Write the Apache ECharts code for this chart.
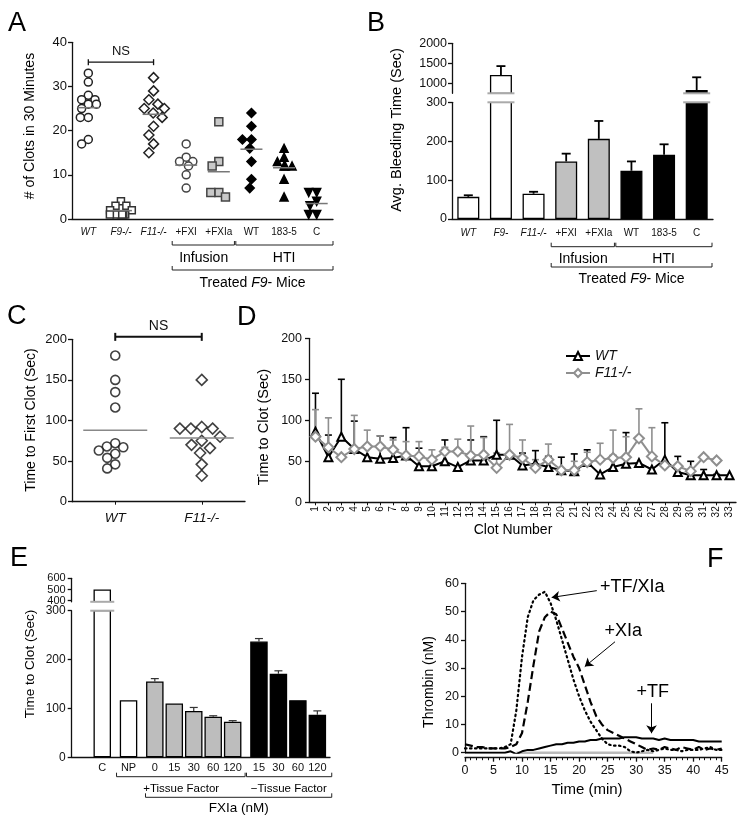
<!DOCTYPE html>
<html><head><meta charset="utf-8">
<script src="https://cdn.jsdelivr.net/npm/echarts@6/dist/echarts.min.js"></script>
<style>html,body{margin:0;padding:0;background:#fff}#c{width:744px;height:818px}</style>
</head><body><div id="c"></div>
<script>
// ---------------- DATA ----------------
// Panel A
const catsA = ['WT','F9-/-','F11-/-','+FXI','+FXIa','WT','183-5','C'];
const aWT = [33,31,28,27,27,26,26,25,23,23,18,17];
const aF9 = [4,3,3,2,2,1,1,1,1,1,1];
const aF11 = [32,29,27,26,25,25,24,23,21,19,17,15];
const aFXI = [17,14,13,13,12,10,7];
const aFXIa = [22,13,12,6,6,5];
const aHtiWT = [24,21,18,18,16,13,9,7];
const aHti1835 = [16,14,13,12,12,12,9,5];
const aHtiC = [6,6,4,3,1,1];
const meansA = [25.2,1.9,23.7,12.2,10.7,15.8,11.6,3.5];
// Panel B
const catsB = ['WT','F9-','F11-/-','+FXI','+FXIa','WT','183-5','C'];
const groupB = ['open','open','open','inf','inf','hti','hti','hti'];
const meanB = [57,1210,65,148,206,124,165,830];
const errTopB = [61,1430,70,168,252,148,192,1150];
const ticksBUpper = [1000,1500,2000];
// Panel C
const catsC = ['WT','F11-/-'];
const cWT = [180,150,135,116,72,68,67,63,59,54,46,41];
const cF11 = [150,92,90,90,90,80,75,70,66,60,46,32];
const meansC = [88,78.5];
// Panel D
const clotNums = ['1','2','3','4','5','6','7','8','9','10','11','12','13','14','15','16','17','18','19','20','21','22','23','24','25','26','27','28','29','30','31','32','33'];
const dWT    = [86,55,80,65,55,53,54,57,44,44,50,43,51,51,58,58,45,47,43,39,38,49,34,43,47,48,40,52,37,33,33,33,33];
const dWTtop = [133,82,150,99,55,81,79,91,66,44,76,43,76,80,100,60,60,63,56,55,59,64,34,57,85,48,40,97,56,50,40,34,33];
const dF11    = [80,67,55,65,68,68,64,57,56,52,62,62,57,58,42,58,54,42,52,39,39,49,52,54,55,78,56,45,44,38,55,51];
const dF11top = [113,103,55,106,88,81,76,74,74,64,67,77,93,79,60,95,76,52,71,39,50,61,72,88,80,114,91,45,44,38,55,51];
// Panel E
const catsE = ['C','NP','0','15','30','60','120','15','30','60','120'];
const groupE = [0,1,2,2,2,2,2,3,3,3,3];
const meanE = [500,117,155,110,95,83,73,237,171,117,87];
const errTopE = [500,117,161,110,102,85,75,243,177,117,95];
const ticksEUpper = [400,500,600];
// Panel F
const timeF = [0,1,2,3,4,5,6,7,8,9,10,11,12,13,14,15,16,17,18,19,20,21,22,23,24,25,26,27,28,29,30,31,32,33,34,35,36,37,38,39,40,41,42,43,44,45];
const fTFXIa = [1.5,1.5,1.5,1.5,1.5,1.5,1.5,2,3,15,34,48,54,56,57,53,47,40,33,26,20,15,11,8,5,3,2.5,2.5,2,0.5,0,0.5,1,0.5,1,1.5,1,1,0.5,1,1,1,1.5,2,1,1];
const fXIa = [3,2.5,2,2,1.5,1.5,1.5,1.5,2,3,7,18,31,43,48,50,49,44,39,34,30,24,18,13,10,8,7,6,5,4,3,2,1,1.5,1,2,1.5,1,2,1.5,1,2,1,1.5,1,1.5];
const fTF = [0,0,0,0,0,0,0,0,0.5,-0.5,0.5,1,1,1.5,2,2.5,3,3,3.5,3.5,4,4,4.5,4.5,5,5,5,5,5.5,5.5,5.5,5,5,5,4.5,5,4.5,4.5,4.5,4.5,4.5,4,4,4,4,4];
const fBaseT = [9,33];
const fBaseV = [0,0];

// ---------------- STYLE / LAYOUT ----------------
const FONT = '"Liberation Sans", Arial, Helvetica, sans-serif';
const INK = '#111';
const G = {
  A:  {left:72,   top:42.3,  width:261,   height:176.7},
  Bu: {left:452,  top:43.3,  width:261,   height:50},
  Bl: {left:452,  top:102.3, width:261,   height:116.7},
  C:  {left:72,   top:339.3, width:173,   height:162.4},
  D:  {left:309,  top:338.3, width:427,   height:164},
  Eu: {left:71.7, top:578.3, width:258.3, height:23.5},
  El: {left:71.7, top:610.7, width:258.3, height:146.6},
  F:  {left:465,  top:583.3, width:256.7, height:169.4}
};
const gridOrder = ['A','Bu','Bl','C','D','Eu','El','F'];
const GI = {}; gridOrder.forEach((k,i)=>GI[k]=i);
const xminE = -1.57, xmaxE = 11.7;
const posE = catsE.map((_, i) => i + 0.35 * groupE[i]);
const plain = (v) => String(v);

function merge(a, b) {
  const o = Object.assign({}, a);
  for (const k in b) {
    if (b[k] && typeof b[k] === 'object' && !Array.isArray(b[k]) && a[k] && typeof a[k] === 'object' && !Array.isArray(a[k])) o[k] = merge(a[k], b[k]);
    else o[k] = b[k];
  }
  return o;
}
const axLine = {show:true, onZero:false, lineStyle:{color:INK, width:1.3}};
const axTick = {show:true, length:4, lineStyle:{color:INK, width:1.3}};
function yAx(key, extra) {
  return merge({type:'value', gridIndex:GI[key], splitLine:{show:false}, axisLine:axLine, axisTick:axTick,
    axisLabel:{color:INK, fontFamily:FONT, fontSize:13, margin:5, formatter:plain, hideOverlap:false}}, extra || {});
}
function xCat(key, data, extra) {
  return merge({type:'category', gridIndex:GI[key], data:data, splitLine:{show:false}, axisLine:axLine,
    axisTick:{show:false}, axisLabel:{color:INK, fontFamily:FONT, fontSize:10, interval:0, margin:8}}, extra || {});
}
function italicFirst(n) {
  return (v, i) => i < n ? '{it|' + v + '}' : v;
}

// helpers for custom series
function errRender(color, lw, capW) {
  return function (p, api) {
    const a = api.coord([api.value(0), api.value(1)]);
    const b = api.coord([api.value(0), api.value(2)]);
    return {type:'group', children:[
      {type:'line', shape:{x1:a[0], y1:a[1], x2:b[0], y2:b[1]}, style:{stroke:color, lineWidth:lw}},
      {type:'line', shape:{x1:b[0]-capW/2, y1:b[1], x2:b[0]+capW/2, y2:b[1]}, style:{stroke:color, lineWidth:lw}}
    ]};
  };
}
function meanRender(w, color) {
  return function (p, api) {
    const c = api.coord([api.value(0), api.value(1)]);
    return {type:'line', shape:{x1:c[0]-w/2, y1:c[1], x2:c[0]+w/2, y2:c[1]}, style:{stroke:color, lineWidth:1.5}};
  };
}
function nsRender(tick, lw, fs) {
  return function (p, api) {
    const a = api.coord([api.value(0), api.value(2)]);
    const b = api.coord([api.value(1), api.value(2)]);
    return {type:'group', children:[
      {type:'line', shape:{x1:a[0], y1:a[1], x2:b[0], y2:b[1]}, style:{stroke:INK, lineWidth:lw}},
      {type:'line', shape:{x1:a[0], y1:a[1]-tick, x2:a[0], y2:a[1]+tick}, style:{stroke:INK, lineWidth:lw}},
      {type:'line', shape:{x1:b[0], y1:b[1]-tick, x2:b[0], y2:b[1]+tick}, style:{stroke:INK, lineWidth:lw}},
      {type:'text', x:(a[0]+b[0])/2, y:a[1]-4, style:{text:'NS', fill:INK, fontFamily:FONT, fontSize:fs, align:'center', verticalAlign:'bottom', textAlign:'center', textVerticalAlign:'bottom'}}
    ]};
  };
}
function breakRender(halfW, gap) {
  return function (p, api) {
    const c = api.coord([api.value(0), api.value(1)]);
    return {type:'group', children:[
      {type:'rect', shape:{x:c[0]-halfW, y:c[1]-gap, width:2*halfW, height:gap}, style:{fill:'#fff'}},
      {type:'line', shape:{x1:c[0]-halfW, y1:c[1], x2:c[0]+halfW, y2:c[1]}, style:{stroke:'#aaa', lineWidth:2}},
      {type:'line', shape:{x1:c[0]-halfW, y1:c[1]-gap, x2:c[0]+halfW, y2:c[1]-gap}, style:{stroke:'#aaa', lineWidth:2}}
    ]};
  };
}

// ---------------- AXES ----------------
const xAxes = [
  xCat('A', catsA, {jitter:24, jitterOverlap:false, jitterMargin:0,
    axisLabel:{formatter:italicFirst(3), margin:8, rich:{it:{fontStyle:'italic', fontSize:10, fontFamily:FONT, color:INK}}}}),
  xCat('Bu', catsB, {show:false}),
  xCat('Bl', catsB, {axisLabel:{formatter:italicFirst(3), margin:9, rich:{it:{fontStyle:'italic', fontSize:10, fontFamily:FONT, color:INK}}}}),
  xCat('C', catsC, {jitter:46, jitterOverlap:false, jitterMargin:0,
    axisTick:{show:true, length:3, alignWithLabel:true, lineStyle:{color:INK}},
    axisLabel:{fontSize:13.5, fontStyle:'italic', margin:10}}),
  xCat('D', clotNums, {axisTick:{show:true, length:3, alignWithLabel:true, interval:0, lineStyle:{color:INK}},
    axisLabel:{rotate:90, fontSize:10, margin:4}}),
  {type:'value', gridIndex:GI.Eu, min:xminE, max:xmaxE, show:false},
  {type:'value', gridIndex:GI.El, min:xminE, max:xmaxE, splitLine:{show:false}, axisLine:axLine, axisTick:{show:false},
    axisLabel:{customValues:posE, formatter:(v)=>{const k = posE.findIndex(p=>Math.abs(p-v)<1e-6); return k>=0?catsE[k]:'';},
      color:INK, fontFamily:FONT, fontSize:11, margin:5}},
  {type:'value', gridIndex:GI.F, min:0, max:45, interval:5, offset:5, splitLine:{show:false}, axisLine:axLine, axisTick:axTick,
    minorTick:{show:true, splitNumber:5, length:2.5, lineStyle:{color:INK}},
    axisLabel:{color:INK, fontFamily:FONT, fontSize:12.5, margin:6}}
];
const yAxes = [
  yAx('A', {min:0, max:40, interval:10}),
  yAx('Bu', {min:750, max:2000, axisLabel:{customValues:ticksBUpper, fontSize:12.5, showMinLabel:true, showMaxLabel:true}, axisTick:{customValues:ticksBUpper}}),
  yAx('Bl', {min:0, max:300, interval:100, axisLabel:{fontSize:12.5}}),
  yAx('C', {min:0, max:200, interval:50}),
  yAx('D', {min:0, max:200, interval:50, axisLabel:{fontSize:12.5, margin:7}}),
  yAx('Eu', {min:390, max:600, axisLabel:{customValues:ticksEUpper, fontSize:11, lineHeight:9, margin:6, showMinLabel:true, showMaxLabel:true}, axisTick:{customValues:ticksEUpper}}),
  yAx('El', {min:0, max:300, interval:100, axisLabel:{fontSize:12, margin:6}}),
  yAx('F', {min:0, max:60, interval:10, axisLabel:{fontSize:12.5, margin:6}})
];

// ---------------- SERIES ----------------
const series = [];
// Panel A scatter
const groupsA = [aWT, aF9, aF11, aFXI, aFXIa, aHtiWT, aHti1835, aHtiC];
const styleA = [
  {symbol:'circle',  size:8,  fill:'#fff',   stroke:'#222'},
  {symbol:'rect',    size:7,  fill:'#fff',   stroke:'#333'},
  {symbol:'diamond', size:10, fill:'#fff',   stroke:'#222'},
  {symbol:'circle',  size:8,  fill:'#fff',   stroke:'#444'},
  {symbol:'rect',    size:8,  fill:'#c8c8c8',stroke:'#444'},
  {symbol:'diamond', size:9,  fill:'#000',   stroke:'#000'},
  {symbol:'triangle',size:8,  fill:'#000',   stroke:'#000'},
  {symbol:'triangle',size:8,  fill:'#000',   stroke:'#000', rotate:180}
];
groupsA.forEach((vals, i) => {
  const s = styleA[i];
  series.push({type:'scatter', xAxisIndex:0, yAxisIndex:0, data: vals.map(v => [i, v]),
    symbol:s.symbol, symbolSize:s.size, symbolRotate:s.rotate || 0,
    itemStyle:{color:s.fill, borderColor:s.stroke, borderWidth:1.5, opacity:1}, z:3});
});
series.push({type:'custom', xAxisIndex:0, yAxisIndex:0, data: meansA.map((m,i)=>[i,m]), encode:{x:0,y:1},
  renderItem: meanRender(22, '#777'), z:4});
series.push({type:'custom', xAxisIndex:0, yAxisIndex:0, data:[[0,2,35.5]], encode:{x:[0,1], y:2},
  renderItem: nsRender(3, 1.3, 13), clip:false, z:4});

// Panel B
const fillB = {open:'#fff', inf:'#c0c0c0', hti:'#000'};
const barItemB = (v, i) => ({value:v, itemStyle:{color:fillB[groupB[i]], borderColor:'#000', borderWidth:1.3}});
series.push({type:'bar', xAxisIndex:2, yAxisIndex:2, barWidth:22, data: meanB.map(barItemB), z:2});
series.push({type:'bar', xAxisIndex:1, yAxisIndex:1, barWidth:22, data: meanB.map((v,i)=> v > 750 ? barItemB(v,i) : '-'), z:2});
series.push({type:'custom', xAxisIndex:2, yAxisIndex:2, encode:{x:0, y:[1,2]},
  data: meanB.map((v,i)=>[i, v, errTopB[i]]).filter(d => d[2] <= 300),
  renderItem: errRender('#000', 1.8, 9), z:3});
series.push({type:'custom', xAxisIndex:1, yAxisIndex:1, encode:{x:0, y:[1,2]},
  data: meanB.map((v,i)=>[i, v, errTopB[i]]).filter(d => d[1] > 750),
  renderItem: errRender('#000', 1.8, 9), z:3});
series.push({type:'custom', xAxisIndex:2, yAxisIndex:2, encode:{x:0, y:1}, clip:false,
  data: meanB.map((v,i)=>[i, 300, v]).filter(d => d[2] > 300).map(d => [d[0], d[1]]),
  renderItem: breakRender(13.5, G.Bl.top - (G.Bu.top + G.Bu.height)), z:5});

// Panel C
series.push({type:'scatter', xAxisIndex:3, yAxisIndex:3, data: cWT.map(v=>[0,v]), symbol:'circle', symbolSize:9,
  itemStyle:{color:'#fff', borderColor:'#111', borderWidth:1.6}, z:3});
series.push({type:'scatter', xAxisIndex:3, yAxisIndex:3, data: cF11.map(v=>[1,v]), symbol:'diamond', symbolSize:11,
  itemStyle:{color:'#fff', borderColor:'#111', borderWidth:1.6}, z:3});
series.push({type:'custom', xAxisIndex:3, yAxisIndex:3, data: meansC.map((m,i)=>[i,m]), encode:{x:0,y:1},
  renderItem: meanRender(64, '#888'), z:4});
series.push({type:'custom', xAxisIndex:3, yAxisIndex:3, data:[[0,1,203]], encode:{x:[0,1], y:2},
  renderItem: nsRender(4, 2, 14), clip:false, z:4});

// Panel D
series.push({type:'custom', xAxisIndex:4, yAxisIndex:4, encode:{x:0, y:[1,2]},
  data: dWT.map((v,i)=>[i, v, dWTtop[i]]).filter(d=>d[2]>d[1]), renderItem: errRender('#000', 1.6, 7), z:1});
series.push({type:'custom', xAxisIndex:4, yAxisIndex:4, encode:{x:0, y:[1,2]},
  data: dF11.map((v,i)=>[i, v, dF11top[i]]).filter(d=>d[2]>d[1]), renderItem: errRender('#8f8f8f', 1.6, 7), z:1});
series.push({type:'line', name:'WT', xAxisIndex:4, yAxisIndex:4, data:dWT, symbol:'triangle', symbolSize:8,
  itemStyle:{color:'#fff', borderColor:'#000', borderWidth:2}, lineStyle:{color:'#000', width:2}, z:3});
series.push({type:'line', name:'F11-/-', xAxisIndex:4, yAxisIndex:4, data:dF11, symbol:'diamond', symbolSize:10,
  itemStyle:{color:'#fff', borderColor:'#8f8f8f', borderWidth:2}, lineStyle:{color:'#8f8f8f', width:2}, z:4});

// Panel E
const fillE = ['#fff','#fff','#bdbdbd','#000'];
const barItemE = (v, i) => ({value:[posE[i], v], itemStyle:{color:fillE[groupE[i]], borderColor:'#000', borderWidth:1.3}});
series.push({type:'bar', xAxisIndex:6, yAxisIndex:6, barWidth:17.5, data: meanE.map(barItemE), z:2});
series.push({type:'bar', xAxisIndex:5, yAxisIndex:5, barWidth:17.5, data: meanE.map(barItemE).filter(d=>d.value[1] > 390), z:2});
series.push({type:'custom', xAxisIndex:6, yAxisIndex:6, encode:{x:0, y:[1,2]},
  data: meanE.map((v,i)=>[posE[i], v, errTopE[i]]).filter(d=>d[2]>d[1] && d[2]<=300),
  renderItem: errRender('#333', 1.2, 8), z:3});
series.push({type:'custom', xAxisIndex:6, yAxisIndex:6, encode:{x:0, y:1}, clip:false,
  data: meanE.map((v,i)=>[posE[i], 300, v]).filter(d=>d[2]>300).map(d=>[d[0], d[1]]),
  renderItem: breakRender(12, G.El.top - (G.Eu.top + G.Eu.height)), z:5});

// Panel F
const zip = (t, v) => t.map((x,i)=>[x, v[i]]);
series.push({type:'line', xAxisIndex:7, yAxisIndex:7, data: zip(fBaseT, fBaseV), showSymbol:false,
  lineStyle:{color:'#bbb', width:2.5}, z:1});
series.push({type:'line', xAxisIndex:7, yAxisIndex:7, data: zip(timeF, fTFXIa), showSymbol:false,
  lineStyle:{color:'#000', width:2.2, type:[1.5,3.5], cap:'round'}, z:2});
series.push({type:'line', xAxisIndex:7, yAxisIndex:7, data: zip(timeF, fXIa), showSymbol:false,
  lineStyle:{color:'#000', width:2.2, type:[8,4]}, z:2});
const annLabel = (txt) => ({show:true, position:'inside', formatter:txt, color:'#000', fontFamily:FONT, fontSize:18});
series.push({type:'line', xAxisIndex:7, yAxisIndex:7, data: zip(timeF, fTF), showSymbol:false,
  lineStyle:{color:'#000', width:2}, z:3,
  markLine:{silent:true, symbol:['none','arrow'], symbolSize:8, label:{show:false},
    lineStyle:{color:'#000', width:1, type:'solid'},
    data:[
      [{coord:[23.1,57.4]},{coord:[15.2,55.0]}],
      [{coord:[26.3,39.3]},{coord:[21.0,30.5]}],
      [{coord:[32.7,17.5]},{coord:[32.7,6.9]}]
    ]},
  markPoint:{silent:true, symbol:'circle', symbolSize:0,
    data:[
      {coord:[29.3,58.8], label:annLabel('+TF/XIa')},
      {coord:[27.75,43.1], label:annLabel('+XIa')},
      {coord:[32.9,21.6], label:annLabel('+TF')}
    ]}
});

// ---------------- GRAPHIC (labels, brackets) ----------------
const graphic = [];
function txt(x, y, text, fs, opts) {
  opts = opts || {};
  graphic.push({type:'text', x:x, y:y, rotation: opts.rot || 0, silent:true,
    style:{text:text, fill:'#000', fontFamily:FONT, fontSize:fs, fontStyle:opts.italic?'italic':'normal',
      rich: opts.rich,
      align:opts.align || 'center', verticalAlign:opts.valign || 'middle',
      textAlign:opts.align || 'center', textVerticalAlign:opts.valign || 'middle'}});
}
function bracket(x1, x2, y) {
  graphic.push({type:'polyline', silent:true, shape:{points:[[x1,y-4],[x1,y],[x2,y],[x2,y-4]]},
    style:{stroke:'#222', lineWidth:1, fill:null}});
}
const catC = (g, n, i) => g.left + g.width / n * (i + 0.5);
const richTreated = {n:{fontFamily:FONT, fontSize:14, fill:'#000', color:'#000'}, i:{fontFamily:FONT, fontSize:14, fontStyle:'italic', fill:'#000', color:'#000'}};
// Panel letters
txt(8, 10, 'A', 27, {align:'left', valign:'top'});
txt(367, 10, 'B', 27, {align:'left', valign:'top'});
txt(7, 303, 'C', 27, {align:'left', valign:'top'});
txt(237, 304, 'D', 27, {align:'left', valign:'top'});
txt(10, 545, 'E', 27, {align:'left', valign:'top'});
txt(707, 546, 'F', 27, {align:'left', valign:'top'});
// Axis titles
txt(29.7, 126, '# of Clots in 30 Minutes', 14, {rot:Math.PI/2});
txt(396.7, 130, 'Avg. Bleeding Time (Sec)', 14.5, {rot:Math.PI/2});
txt(30.8, 420, 'Time to First Clot (Sec)', 14, {rot:Math.PI/2});
txt(264, 427, 'Time to Clot (Sec)', 14.5, {rot:Math.PI/2});
txt(30.5, 664, 'Time to Clot (Sec)', 13.5, {rot:Math.PI/2});
txt(429, 682, 'Thrombin (nM)', 14, {rot:Math.PI/2});
txt(513, 530, 'Clot Number', 14);
txt(587, 790, 'Time (min)', 15);
// Panel A group brackets
(function(){
  const g = G.A, n = catsA.length;
  const s = catC(g,n,3) - 14, m = (catC(g,n,4) + catC(g,n,5)) / 2, e = g.left + g.width;
  bracket(s, m - 0.7, 245); bracket(m + 0.7, e, 245);
  txt((s + m) / 2, 258.5, 'Infusion', 14);
  txt((m + e) / 2, 258.5, 'HTI', 14);
  bracket(s, e, 270);
  txt((s + e) / 2, 283, '{n|Treated }{i|F9}{n|- Mice}', 14, {rich:richTreated});
})();
// Panel B group brackets
(function(){
  const g = G.Bl, n = catsB.length;
  const s = catC(g,n,3) - 15, m = (catC(g,n,4) + catC(g,n,5)) / 2, e = g.left + g.width - 1;
  bracket(s, m - 0.7, 246.7); bracket(m + 0.7, e, 246.7);
  txt((s + m) / 2, 259.3, 'Infusion', 14);
  txt((m + e) / 2, 259.3, 'HTI', 14);
  bracket(s, e, 267);
  txt((s + e) / 2, 279, '{n|Treated }{i|F9}{n|- Mice}', 14, {rich:richTreated});
})();
// Panel E group brackets
(function(){
  const g = G.El;
  const px = (x) => g.left + (x - xminE) / (xmaxE - xminE) * g.width;
  const s1 = px(posE[1]) - 12, m = (px(posE[6]) + px(posE[7])) / 2, e = px(posE[10]) + 14.4;
  bracket(s1, m - 0.7, 776.7); bracket(m + 0.7, e, 776.7);
  txt((s1 + m) / 2, 789.3, '+Tissue Factor', 11.5);
  txt((m + e) / 2, 789.3, '\u2212Tissue Factor', 11.5);
  const s2 = px(posE[2]) - 9.3;
  bracket(s2, e, 797.3);
  txt((s2 + e) / 2, 808.3, 'FXIa (nM)', 13.5);
})();

const option = {
  animation:false,
  backgroundColor:'#fff',
  textStyle:{fontFamily:FONT},
  grid: gridOrder.map(k => Object.assign({containLabel:false}, G[k])),
  xAxis: xAxes,
  yAxis: yAxes,
  legend:{data:[{name:'WT'},{name:'F11-/-'}], left:560, top:344, orient:'vertical', itemGap:3, itemWidth:24, itemHeight:10,
    textStyle:{fontFamily:FONT, fontSize:14, fontStyle:'italic', color:INK}},
  series: series,
  graphic: graphic
};
const chart = echarts.init(document.getElementById('c'), null, {renderer:'canvas'});
chart.setOption(option);
</script></body></html>
